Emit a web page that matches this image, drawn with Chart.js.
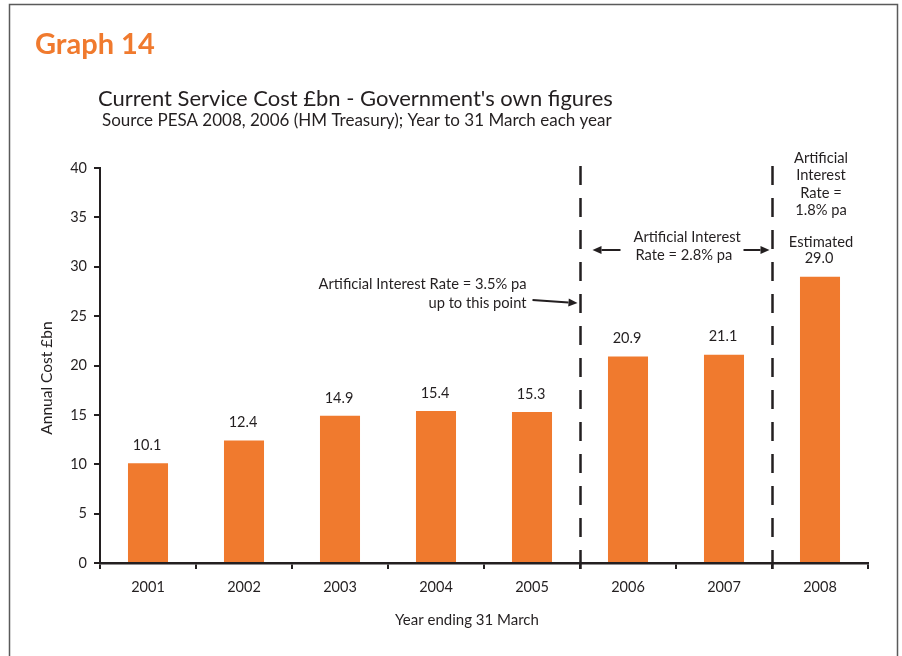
<!DOCTYPE html>
<html>
<head>
<meta charset="utf-8">
<script src="https://cdn.jsdelivr.net/npm/chart.js@4.4.1/dist/chart.umd.min.js"></script>
<style>
  html, body { margin: 0; padding: 0; background: #ffffff; }
  #wrap { position: relative; width: 902px; height: 656px; }
</style>
</head>
<body>
<div id="wrap"><canvas id="costChart" width="902" height="656"></canvas></div>
<script>
// Current service cost, £bn, year to 31 March
const years = ['2001', '2002', '2003', '2004', '2005', '2006', '2007', '2008'];
const serviceCost = [10.1, 12.4, 14.9, 15.4, 15.3, 20.9, 21.1, 29.0];
const yTicks = [0, 5, 10, 15, 20, 25, 30, 35, 40];

// first year of each new interest-rate period (dashed separators go before these)
const rateBreaks = ['2006', '2008'];
const noteEarly = ['Artificial Interest Rate = 3.5% pa', 'up to this point'];
const noteMiddle = ['Artificial Interest', 'Rate = 2.8% pa'];
const noteLate = ['Artificial', 'Interest', 'Rate =', '1.8% pa'];
const noteEstimate = 'Estimated';

const FONT = 'Lato, "Open Sans", sans-serif';
const INK = '#231f20';
const ORANGE = '#f07a2e';

function drawArrow(ctx, x1, y1, x2, y2) {
    const ang = Math.atan2(y2 - y1, x2 - x1);
    const headLen = 9, headW = 4;
    ctx.save();
    ctx.strokeStyle = INK;
    ctx.fillStyle = INK;
    ctx.lineWidth = 2;
    ctx.beginPath();
    ctx.moveTo(x1, y1);
    ctx.lineTo(x2 - Math.cos(ang) * headLen, y2 - Math.sin(ang) * headLen);
    ctx.stroke();
    ctx.beginPath();
    ctx.moveTo(x2, y2);
    ctx.lineTo(x2 - Math.cos(ang) * headLen - Math.sin(ang) * headW,
               y2 - Math.sin(ang) * headLen + Math.cos(ang) * headW);
    ctx.lineTo(x2 - Math.cos(ang) * headLen + Math.sin(ang) * headW,
               y2 - Math.sin(ang) * headLen - Math.cos(ang) * headW);
    ctx.closePath();
    ctx.fill();
    ctx.restore();
}

// page frame, headings, rate separators and notes
const decorations = {
    id: 'decorations',
    beforeDraw(chart) {
        const ctx = chart.ctx;
        ctx.save();
        ctx.strokeStyle = '#5a5a5a';
        ctx.lineWidth = 1.5;
        ctx.beginPath();
        ctx.moveTo(9.5, 700);
        ctx.lineTo(9.5, 4.5);
        ctx.lineTo(897.5, 4.5);
        ctx.lineTo(897.5, 700);
        ctx.stroke();

        ctx.textBaseline = 'middle';
        ctx.fillStyle = ORANGE;
        ctx.font = 'bold 29px ' + FONT;
        ctx.fillText('Graph 14', 35, 45);

        ctx.fillStyle = INK;
        ctx.font = '22px ' + FONT;
        ctx.fillText('Current Service Cost £bn - Government\'s own figures', 98, 99);
        ctx.font = '17px ' + FONT;
        ctx.fillText('Source PESA 2008, 2006 (HM Treasury); Year to 31 March each year', 102, 121);

        // y axis title
        ctx.save();
        ctx.translate(47, 378);
        ctx.rotate(-Math.PI / 2);
        ctx.textAlign = 'center';
        ctx.font = '15.5px ' + FONT;
        ctx.fillText('Annual Cost £bn', 0, 0);
        ctx.restore();
        ctx.restore();
    },
    afterDraw(chart) {
        const ctx = chart.ctx;
        const xs = chart.scales.x;
        const area = chart.chartArea;
        const breakX = rateBreaks.map(y => {
            const i = years.indexOf(y);
            return Math.round((xs.getPixelForValue(i - 1) + xs.getPixelForValue(i)) / 2) + 0.5;
        });

        ctx.save();
        ctx.strokeStyle = INK;
        ctx.lineWidth = 2.5;
        ctx.setLineDash([19, 13]);
        breakX.forEach(x => {
            ctx.beginPath();
            ctx.moveTo(x, area.top - 2);
            ctx.lineTo(x, area.bottom + 7);
            ctx.stroke();
        });
        ctx.setLineDash([]);

        ctx.fillStyle = INK;
        ctx.textBaseline = 'middle';
        ctx.font = '14.7px ' + FONT;

        // 3.5% note with arrow into the first separator
        ctx.textAlign = 'right';
        ctx.fillText(noteEarly[0], breakX[0] - 54, 284);
        ctx.fillText(noteEarly[1], breakX[0] - 54, 303);
        drawArrow(ctx, breakX[0] - 48, 300, breakX[0] - 3, 303);

        // 2.8% note between separators
        ctx.textAlign = 'left';
        ctx.fillText(noteMiddle[0], breakX[0] + 53, 237);
        ctx.fillText(noteMiddle[1], breakX[0] + 55, 255);
        drawArrow(ctx, breakX[0] + 40, 250, breakX[0] + 12, 250);
        drawArrow(ctx, breakX[1] - 29, 250, breakX[1] - 3, 250);

        // 1.8% note above the last bar
        const lastX = xs.getPixelForValue(years.length - 1);
        ctx.textAlign = 'center';
        noteLate.forEach((line, k) => ctx.fillText(line, lastX + 1, 158 + k * 17.5));
        ctx.fillText(noteEstimate, lastX + 1, 242);

        ctx.font = '15px ' + FONT;
        ctx.fillText('Year ending 31 March', 467, 620);
        ctx.restore();
    }
};

// value printed above each bar
const barValues = {
    id: 'barValues',
    afterDatasetsDraw(chart) {
        const ctx = chart.ctx;
        const meta = chart.getDatasetMeta(0);
        ctx.save();
        ctx.fillStyle = INK;
        ctx.font = '14.5px ' + FONT;
        ctx.textAlign = 'center';
        ctx.textBaseline = 'middle';
        meta.data.forEach((bar, i) => {
            ctx.fillText(serviceCost[i].toFixed(1), bar.x - 1, bar.y - 18);
        });
        ctx.restore();
    }
};

new Chart(document.getElementById('costChart'), {
    type: 'bar',
    data: {
        labels: years,
        datasets: [{
            label: 'Current Service Cost £bn',
            data: serviceCost,
            backgroundColor: ORANGE,
            borderWidth: 0,
            barPercentage: 0.417,
            categoryPercentage: 1.0
        }]
    },
    options: {
        responsive: false,
        animation: false,
        layout: { padding: { left: 0, top: 168, right: 34, bottom: 0 } },
        plugins: {
            legend: { display: false },
            tooltip: { enabled: false }
        },
        scales: {
            x: {
                grid: {
                    drawOnChartArea: false,
                    drawTicks: true,
                    tickLength: 6,
                    color: INK,
                    lineWidth: 2,
                    offset: true
                },
                border: { color: INK, width: 2.5 },
                ticks: { color: INK, font: { family: FONT, size: 14.5 }, padding: 10 },
                afterFit(scale) { scale.height = 93; }
            },
            y: {
                min: 0,
                max: 40,
                afterBuildTicks(scale) { scale.ticks = yTicks.map(v => ({ value: v })); },
                grid: {
                    drawOnChartArea: false,
                    drawTicks: true,
                    tickLength: 6,
                    color: INK,
                    lineWidth: 2
                },
                border: { color: INK, width: 2 },
                ticks: { color: INK, font: { family: FONT, size: 14.5 }, padding: 7 },
                afterFit(scale) { scale.width = 100; }
            }
        }
    },
    plugins: [decorations, barValues]
});
</script>
</body>
</html>
